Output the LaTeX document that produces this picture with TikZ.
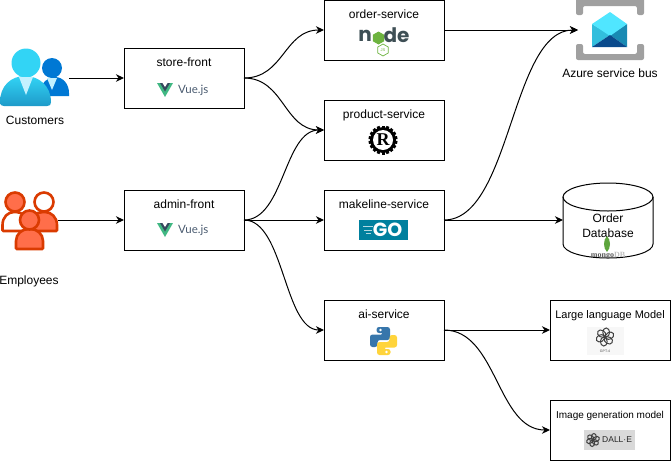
\documentclass[tikz,border=0pt]{standalone}
\usepackage{fontspec}
\setmainfont{Liberation Sans}
\newfontfamily\logofont{Lato}
\newfontfamily\nodefont{Poppins}
\newfontfamily\serifface{Liberation Serif}
\usepackage{tikz}
\usetikzlibrary{shapes.geometric,arrows.meta,positioning}
\definecolor{vuegreen}{HTML}{41B883}
\definecolor{vuedark}{HTML}{35495E}
\definecolor{vuetext}{HTML}{4A5B70}
\definecolor{nodedark}{HTML}{3E4F55}
\definecolor{nodegreen}{HTML}{6DB33F}
\definecolor{gocolor}{HTML}{00809E}
\definecolor{pyblue}{HTML}{3776AB}
\definecolor{pyyellow}{HTML}{FFD43B}
\definecolor{azlight}{HTML}{32D4F5}
\definecolor{azmid}{HTML}{1E9AC9}
\definecolor{azblue}{HTML}{0078D4}
\definecolor{aztie}{HTML}{C3F1FF}
\definecolor{staffline}{HTML}{DA3B01}
\definecolor{stafffill}{HTML}{FF6E4A}
\definecolor{bracket}{HTML}{A0A0A0}
\definecolor{flap}{HTML}{50E6FF}
\definecolor{envleft}{HTML}{32BEDD}
\definecolor{envright}{HTML}{198AB3}
\definecolor{envdark}{HTML}{0A4A8C}
\definecolor{leaf}{HTML}{5DA53D}
\begin{document}
\begin{tikzpicture}[
  x=1pt, y=-1pt,
  box/.style={rectangle, draw=black, line width=1pt, outer sep=0pt, inner sep=0pt,
    minimum width=120pt, minimum height=60pt},
  ttl/.style={font=\fontsize{12}{14}\selectfont, inner sep=0pt, text height=9pt, text depth=1pt},
  smallttl/.style={ttl, font=\fontsize{11}{13}\selectfont},
  tinyttl/.style={ttl, font=\fontsize{10}{13}\selectfont},
  ghost/.style={inner sep=0pt, outer sep=0pt},
  arr/.style={-{Stealth[length=8pt, width=7.5pt, inset=2.5pt]}, line width=1pt},
  vuelogo/.pic={
    \fill[vuegreen] (-27,-7) -- (-11,-7) -- (-19,7) -- cycle;
    \fill[vuedark] (-24,-7) -- (-14,-7) -- (-19,1.5) -- cycle;
    \fill[white] (-21.5,-7) -- (-16.5,-7) -- (-19,-3) -- cycle;
    \node[inner sep=0pt, anchor=west, text=vuetext, font=\logofont\fontsize{11.5}{12}\selectfont] (-txt) at (-6,0) {Vue.js};
  },
  knot/.pic={
    \foreach \a in {0,60,...,300}
      \draw[rotate=\a, line width=1pt, black!75] (1.2,-4.6) ellipse (3.4 and 4.4);
  }
]
\useasboundingbox (0,0) rectangle (671,461);

\node[ghost, minimum width=69pt, minimum height=60pt] (customers) at (34.5,78) {};
\node[ghost, minimum width=58pt, minimum height=60pt] (employees) at (29,220) {};
\node[ttl] (customers-t) at (35,120) {Customers};
\node[ttl] (employees-t) at (29,280) {Employees};

\node[box] (storefront) at (184,78) {};
\node[box, below=82pt of storefront] (adminfront) {};
\node[box, right=80pt of storefront, yshift=48pt] (orderservice) {};
\node[box, below=40pt of orderservice] (productservice) {};
\node[box, below=30pt of productservice] (makelineservice) {};
\node[box, below=50pt of makelineservice] (aiservice) {};
\node[box, right=106pt of aiservice] (llm) {};
\node[box, below=40pt of llm] (imagegen) {};
\node[ghost, minimum width=64pt, minimum height=60pt, right=134pt of orderservice] (servicebus) {};
\node[ghost, minimum width=90pt, minimum height=60pt, right=119pt of makelineservice] (orderdb) {};
\node[ttl] (servicebus-t) at (610,73) {Azure service bus};
\node[ttl, align=center, text height=, text depth=, font=\fontsize{12}{15}\selectfont] (orderdb-t) at (608,225.5) {Order\\Database};

\node[ttl] (storefront-t) at ([yshift=-14pt]storefront.north) {store-front};
\node[ttl] (adminfront-t) at ([yshift=-14pt]adminfront.north) {admin-front};
\node[ttl] (orderservice-t) at ([yshift=-14pt]orderservice.north) {order-service};
\node[ttl] (productservice-t) at ([yshift=-14pt]productservice.north) {product-service};
\node[ttl] (makelineservice-t) at ([yshift=-14pt]makelineservice.north) {makeline-service};
\node[ttl] (aiservice-t) at ([yshift=-14pt]aiservice.north) {ai-service};
\node[smallttl] (llm-t) at ([yshift=-14pt]llm.north) {Large language Model};
\node[tinyttl] (imagegen-t) at ([yshift=-14pt]imagegen.north) {Image generation model};

\pic (vuestore) at (184,90) {vuelogo};
\pic (vueadmin) at (184,230) {vuelogo};

% people
\fill[azblue] (41,96) -- (41,92) .. controls (41,83) and (47,77) .. (55,77) .. controls (63,77) and (69,84) .. (69,93) -- (69,96) -- cycle;
\fill[azblue] (52,68) circle (10);
\fill[aztie] (47,78) -- (57,78) -- (52,90) -- cycle;
\shade[top color=azlight, bottom color=azmid] (0,102) .. controls (0,86) and (11,76) .. (25,76) .. controls (39,76) and (51,86) .. (51,102) .. controls (51,105) and (50,106) .. (47,106) -- (4,106) .. controls (1,106) and (0,105) .. (0,102) -- cycle;
\fill[azlight] (26,63) circle (14.5);
\fill[aztie] (19,77) -- (33,77) -- (26,95) -- cycle;

\begin{scope}[draw=staffline, line width=2.6pt, rounded corners=1pt]
  \draw[fill=white] (2.5,231) -- (2.5,226) .. controls (2.5,217) and (8,212) .. (15,212) .. controls (22,212) and (28,217) .. (28,226) -- (28,231) -- cycle;
  \draw[fill=stafffill] (30,231) -- (30,226) .. controls (30,217) and (36,212) .. (44,212) .. controls (51,212) and (57,217) .. (57,226) -- (57,231) -- cycle;
  \draw[fill=stafffill] (15,202) circle (9.5);
  \draw[fill=white] (44,202) circle (9.5);
  \draw[fill=stafffill] (16,249) -- (16,242) .. controls (16,234) and (22,229) .. (29.5,229) .. controls (37,229) and (43,234) .. (43,242) -- (43,249) -- cycle;
  \draw[fill=stafffill] (29.5,220) circle (9.5);
\end{scope}

% node
\node[inner sep=0pt, text=nodedark, font=\nodefont\bfseries\fontsize{20}{20}\selectfont] (nodelogo-n) at (365,36) {n};
\node[inner sep=0pt, text=nodedark, font=\nodefont\bfseries\fontsize{20}{20}\selectfont] (nodelogo-de) at (396.5,35) {de};
\node[regular polygon, regular polygon sides=6, fill=nodegreen, minimum size=13pt, inner sep=0pt, rotate=30] (nodelogo-o) at (378.5,38) {};
\node[regular polygon, regular polygon sides=6, draw=nodegreen, line width=.7pt, minimum size=12pt, inner sep=0pt, rotate=30, text=nodegreen, font=\fontsize{4}{4}\selectfont] (nodelogo-js) at (383,50) {\rotatebox{-30}{JS}};

% rust
\foreach \a in {0,20,...,340}
  \fill[rotate around={\a:(383,140)}] (381.5,125.5) rectangle (384.5,130);
\fill (383,140) circle (13);
\fill[white] (383,140) circle (10);
\node[inner sep=0pt, font=\serifface\bfseries\fontsize{18}{18}\selectfont] (rustlogo) at (383,140) {R};

% go
\node[fill=gocolor, minimum width=49pt, minimum height=20pt, inner sep=0pt, text=white, font=\nodefont\bfseries\fontsize{19}{19}\selectfont] (gologo) at (383.5,230) {\hspace*{8pt}GO};
\draw[white!70!gocolor, line width=1pt] (363,226.5) -- (373,226.5) (364,230) -- (372,230) (366,233.5) -- (371,233.5);

% python
\begin{scope}[shift={(383.5,341)}]
  \fill[pyblue, rounded corners=2.5pt] (-7,-14) -- (6.5,-14) -- (6.5,-1) -- (-6,-1) -- (-6,6) -- (-13.5,6) -- (-13.5,-6.5) -- (0,-6.5) -- (0,-8) -- (-7,-8) -- cycle;
  \fill[white] (-3,-11) circle (1.3);
  \begin{scope}[rotate=180]
    \fill[pyyellow, rounded corners=2.5pt] (-7,-14) -- (6.5,-14) -- (6.5,-1) -- (-6,-1) -- (-6,6) -- (-13.5,6) -- (-13.5,-6.5) -- (0,-6.5) -- (0,-8) -- (-7,-8) -- cycle;
    \fill[white] (-3,-11) circle (1.3);
  \end{scope}
\end{scope}

% service bus
\fill[bracket, rounded corners=2pt] (576,15) -- (576,-3) -- (644,-3) -- (644,15) -- (637,15) -- (637,6) -- (583,6) -- (583,15) -- cycle;
\fill[bracket, rounded corners=2pt] (576,44) -- (583,44) -- (583,54) -- (637,54) -- (637,44) -- (644,44) -- (644,60) -- (576,60) -- cycle;
\fill[envleft] (592,24) -- (610,35) -- (592,47) -- cycle;
\fill[envright] (627,24) -- (610,35) -- (627,47) -- cycle;
\fill[flap] (592,24) -- (610,12) -- (627,24) -- (610,36) -- cycle;
\fill[envdark] (592,47) -- (610,35) -- (627,47) -- cycle;

% order database
\draw[line width=1pt] (608,197) ellipse (45 and 14);
\draw[line width=1pt] (563,197) -- (orderdb.west) -- (563,244) .. controls (563,252) and (583,258) .. (608,258) .. controls (633,258) and (653,252) .. (653,244) -- (653,197);
\fill[leaf] (607,236) .. controls (603,240) and (603,248) .. (607,252) .. controls (611,248) and (611,240) .. (607,236) -- cycle;
\node[inner sep=0pt, font=\serifface\bfseries\fontsize{8}{8}\selectfont, text=black!65] (mongologo) at (608,255.5) {mongo\textcolor{black!25}{DB}};

% openai
\fill[black!3] (587,327) rectangle (624,355);
\pic (gptknot) at (605,337) {knot};
\node[inner sep=0pt, text=black!70, font=\fontsize{3.5}{4}\selectfont] (gptlogo) at (605,351) {GPT-4};
\fill[black!15] (584,430) rectangle (635,450);
\pic[scale=.72] (dalleknot) at (593,440) {knot};
\node[inner sep=0pt, anchor=west, text=black!85, font=\fontsize{8.5}{10}\selectfont] (dallelogo) at (602,440) {DALL·E};

\draw[arr] (customers.east) -- (storefront.west);
\draw[arr] (employees.east) -- (adminfront.west);
\draw[arr] (storefront.east) .. controls +(40,0) and +(-40,0) .. (orderservice.west);
\draw[arr] (storefront.east) .. controls +(40,0) and +(-40,0) .. (productservice.west);
\draw[arr] (adminfront.east) .. controls +(40,0) and +(-40,0) .. (productservice.west);
\draw[arr] (adminfront.east) -- (makelineservice.west);
\draw[arr] (adminfront.east) .. controls +(40,0) and +(-40,0) .. (aiservice.west);
\draw[arr] (orderservice.east) -- (servicebus.west);
\draw[arr] (makelineservice.east) .. controls +(67,0) and +(-67,0) .. (servicebus.west);
\draw[arr] (makelineservice.east) -- (orderdb.west);
\draw[arr] (aiservice.east) -- (llm.west);
\draw[arr] (aiservice.east) .. controls +(53,0) and +(-53,0) .. (imagegen.west);
\end{tikzpicture}
\end{document}
